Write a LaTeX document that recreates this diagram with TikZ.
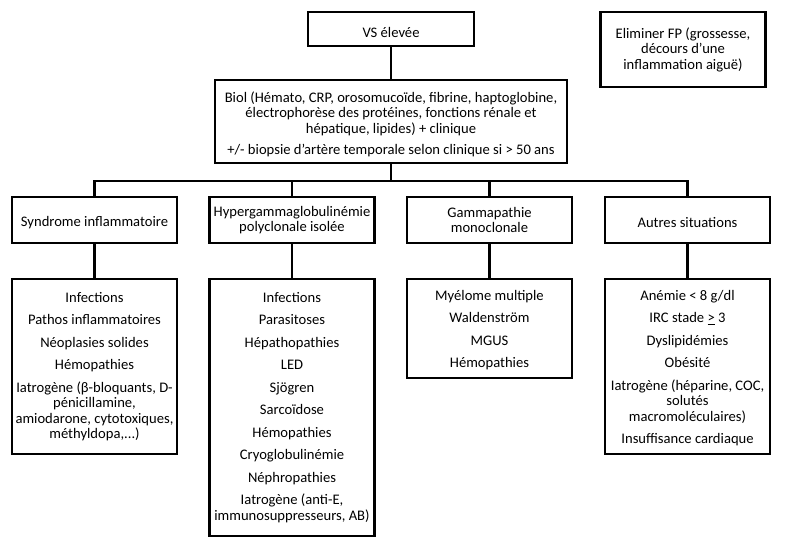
\documentclass[tikz,border=0pt]{standalone}
\usepackage{fontspec}
\setmainfont{Carlito}
\newcommand{\lowr}[1]{\raisebox{-3pt}[\height][\depth]{#1}}
\begin{document}
\begin{tikzpicture}[x=1pt,y=-1pt,
  every node/.style={font=\fontsize{14.6}{15.5}\selectfont, text=black},
  box/.style={draw=black, line width=2.3pt, fill=white, align=center, inner sep=0pt},
  lst/.style={align=center, inner sep=0pt, anchor=north},
  conn/.style={draw=black, line width=2.3pt}]
\useasboundingbox (0,0) rectangle (800,545);
% top
\node[box, minimum width=166, minimum height=34] (vs) at (391,29) {\lowr{VS élevée}};
\node[box, minimum width=165, minimum height=75] (fp) at (683,49.5) {Eliminer FP (grossesse,\\ décours d'une\\ inflammation aiguë)};
\node[box, minimum width=352, minimum height=83] (biol) at (391,121.5) {};
\node[align=center, inner sep=0pt] (tb) at (391,124.5) {Biol (Hémato, CRP, orosomucoïde, fibrine, haptoglobine,\\ électrophorèse des protéines, fonctions rénale et\\ hépatique, lipides) + clinique\\[6pt] +/- biopsie d'artère temporale selon clinique si > 50 ans};
\coordinate (bus) at (391,181);
% level 2
\node[box, minimum width=165, minimum height=46] (s1) at (94.5,220) {\lowr{Syndrome inflammatoire}};
\node[box, minimum width=165, minimum height=46] (s2) at (292,220) {Hypergammaglobulinémie\\ polyclonale isolée};
\node[box, minimum width=165, minimum height=46] (s3) at (489.5,220) {Gammapathie\\ monoclonale};
\node[box, minimum width=165, minimum height=46] (s4) at (687.5,220) {\lowr{Autres situations}};
% level 3
\node[box, anchor=north, minimum width=165, minimum height=175] (d1) at (94.5,278) {};
\node[box, anchor=north, minimum width=165, minimum height=257] (d2) at (292,278) {};
\node[box, anchor=north, minimum width=165, minimum height=99] (d3) at (489.5,278) {};
\node[box, anchor=north, minimum width=165, minimum height=175] (d4) at (687.5,278) {};
\node[lst] (t1) at ([yshift=-14]d1.north) {Infections\\[7pt] Pathos inflammatoires\\[7pt] Néoplasies solides\\[7pt] Hémopathies\\[7pt] Iatrogène (β-bloquants, D-\\ pénicillamine,\\ amiodarone, cytotoxiques,\\ méthyldopa,...)};
\node[lst] (t2) at ([yshift=-14]d2.north) {Infections\\[7pt] Parasitoses\\[7pt] Hépathopathies\\[7pt] LED\\[7pt] Sjögren\\[7pt] Sarcoïdose\\[7pt] Hémopathies\\[7pt] Cryoglobulinémie\\[7pt] Néphropathies\\[7pt] Iatrogène (anti-E,\\ immunosuppresseurs, AB)};
\node[lst] (t3) at ([yshift=-12]d3.north) {Myélome multiple\\[7pt] Waldenström\\[7pt] MGUS\\[7pt] Hémopathies};
\node[lst] (t4) at ([yshift=-12]d4.north) {Anémie < 8 g/dl\\[7pt] IRC stade \underline{>} 3\\[7pt] Dyslipidémies\\[7pt] Obésité\\[7pt] Iatrogène (héparine, COC,\\ solutés\\ macromoléculaires)\\[7pt] Insuffisance cardiaque};
% connectors
\draw[conn] (vs.south) -- (biol.north);
\draw[conn] (biol.south) -- (bus);
\draw[conn] (s1.north) -- (s1.north |- bus) -- (s4.north |- bus) -- (s4.north);
\draw[conn] (s2.north) -- (s2.north |- bus);
\draw[conn] (s3.north) -- (s3.north |- bus);
\draw[conn] (s1.south) -- (d1.north);
\draw[conn] (s2.south) -- (d2.north);
\draw[conn] (s3.south) -- (d3.north);
\draw[conn] (s4.south) -- (d4.north);
\end{tikzpicture}
\end{document}
